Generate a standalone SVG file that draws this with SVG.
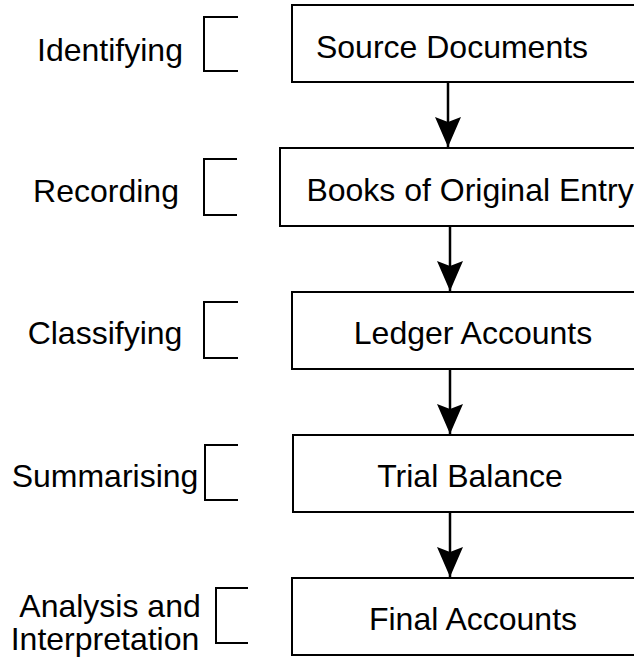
<svg xmlns="http://www.w3.org/2000/svg" width="634" height="657" viewBox="0 0 634 657">
<defs>
<style>
.box{fill:#fff;stroke:#000;stroke-width:2}
.br{fill:none;stroke:#000;stroke-width:2}
.ln{stroke:#000;stroke-width:2.5;fill:none}
text{font-family:"Liberation Sans",Arial,Helvetica,sans-serif;font-size:32px;fill:#000;text-anchor:middle}
</style>
<marker id="ah" markerUnits="userSpaceOnUse" markerWidth="34" markerHeight="30" viewBox="-32 -15 34 30" refX="0" refY="0" orient="auto">
<path d="M-30,-13 L-25,0 L-30,13 L0,0 Z" fill="#000"/>
</marker>
</defs>
<g id="node-source">
<rect class="box" x="292" y="5" width="350" height="77"/>
<text x="452" y="58">Source Documents</text>
</g>
<g id="node-books">
<rect class="box" x="280" y="148" width="362" height="78"/>
<text x="470" y="201">Books of Original Entry</text>
</g>
<g id="node-ledger">
<rect class="box" x="292" y="292" width="350" height="77"/>
<text x="473" y="344">Ledger Accounts</text>
</g>
<g id="node-trial">
<rect class="box" x="293" y="435" width="349" height="77"/>
<text x="470" y="487">Trial Balance</text>
</g>
<g id="node-final">
<rect class="box" x="292" y="578" width="350" height="77"/>
<text x="473" y="630">Final Accounts</text>
</g>
<g id="label-identifying">
<path class="br" d="M238,17 H204 V71 H238"/>
<text x="110" y="61">Identifying</text>
</g>
<g id="label-recording">
<path class="br" d="M237,159 H204 V215 H237"/>
<text x="106" y="202">Recording</text>
</g>
<g id="label-classifying">
<path class="br" d="M238,302 H204 V358 H238"/>
<text x="105" y="344">Classifying</text>
</g>
<g id="label-summarising">
<path class="br" d="M238,445 H205 V500 H238"/>
<text x="105" y="487">Summarising</text>
</g>
<g id="label-analysis">
<path class="br" d="M248,588 H216 V643 H248"/>
<text x="110" y="617">Analysis and</text>
<text x="105" y="650">Interpretation</text>
</g>
<g id="connectors">
<line class="ln" x1="448" y1="82" x2="448" y2="147" marker-end="url(#ah)"/>
<line class="ln" x1="450" y1="226" x2="450" y2="291" marker-end="url(#ah)"/>
<line class="ln" x1="450" y1="369" x2="450" y2="434" marker-end="url(#ah)"/>
<line class="ln" x1="450" y1="512" x2="450" y2="577" marker-end="url(#ah)"/>
</g>
</svg>
